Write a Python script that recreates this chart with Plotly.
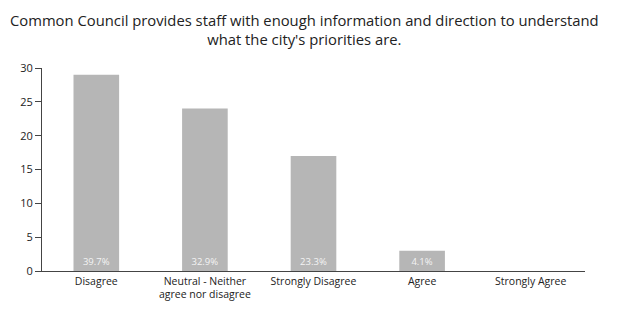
import plotly.graph_objects as go

categories = ["Disagree", "Neutral - Neither<br>agree nor disagree", "Strongly Disagree", "Agree", "Strongly Agree"]
counts = [29, 24, 17, 3, 0]
y_ticks = [0, 5, 10, 15, 20, 25, 30]
title_text = "Common Council provides staff with enough information and direction to understand<br>what the city's priorities are."

total = sum(counts)
labels = [f"{c / total * 100:.1f}%" if c > 0 else "" for c in counts]

fig = go.Figure(
    go.Bar(
        x=categories,
        y=counts,
        width=0.42,
        marker=dict(color="#b6b6b6", line=dict(width=0)),
        text=labels,
        textposition="inside",
        insidetextanchor="start",
        textangle=0,
        textfont=dict(color="#f4f4f4", size=9.5, family="Open Sans"),
        cliponaxis=False,
    )
)

fig.add_annotation(
    text=title_text,
    xref="paper",
    yref="paper",
    x=0.484,
    y=1.297,
    xanchor="center",
    yanchor="top",
    showarrow=False,
    align="center",
    font=dict(size=14.8, color="#222222", family="Open Sans"),
)

fig.update_layout(
    width=622,
    height=326,
    margin=dict(l=42, r=37, t=68, b=55),
    paper_bgcolor="white",
    plot_bgcolor="white",
    font=dict(family="Open Sans", color="#333333", size=11),
    showlegend=False,
    uniformtext=dict(minsize=8, mode="show"),
)

fig.update_xaxes(
    showline=True,
    linecolor="#444444",
    linewidth=1,
    showgrid=False,
    ticks="",
    tickfont=dict(size=10.5, color="#222222"),
)
fig.update_yaxes(
    range=[0, 30],
    tickvals=y_ticks,
    showline=True,
    linecolor="#444444",
    linewidth=1,
    showgrid=False,
    zeroline=False,
    ticks="outside",
    ticklen=6,
    tickcolor="#444444",
    tickfont=dict(size=11, color="#222222"),
)

fig.write_html("out.html")
